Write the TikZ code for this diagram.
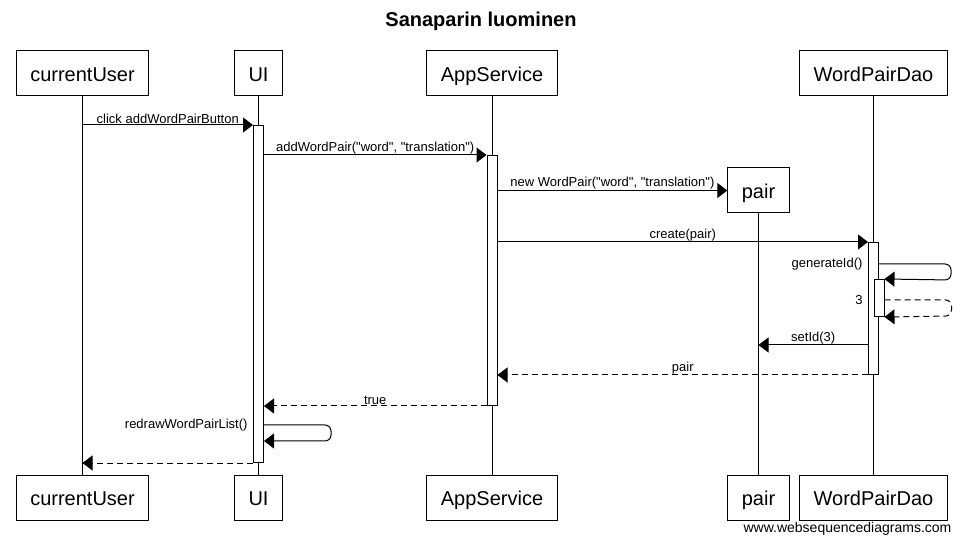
\documentclass[tikz,border=0pt]{standalone}
\usepackage{fontspec}
\setmainfont{Liberation Sans}[Ligatures=TeXOff]
\usetikzlibrary{arrows.meta}

\begin{document}
\begin{tikzpicture}[x=1pt,y=-1pt,line width=1pt,
  actor/.style={draw,minimum height=45pt,inner xsep=14pt,inner ysep=0pt,text height=18pt,text depth=2pt,font=\fontsize{20}{24}\selectfont},
  bar/.style={draw,fill=white,minimum width=10pt,inner sep=0pt,anchor=north},
  call/.style={-{Triangle[length=10pt,width=15pt]}},
  reply/.style={call,dash pattern=on 6pt off 4pt},
  lbl/.style={above,inner sep=0.5pt,font=\fontsize{13}{15}\selectfont},
  selflbl/.style={left,inner xsep=5pt,inner ysep=0pt,font=\fontsize{13}{15}\selectfont}]
  \useasboundingbox (0,0) rectangle (962,545);

  \node[font=\bfseries\fontsize{20}{24}\selectfont] (title) at (481,21) {Sanaparin luominen};

  % participants
  \node[actor] (cu) at (82.5,73.5) {currentUser};
  \node[actor] (ui) at (258.5,73.5) {UI};
  \node[actor] (as) at (492,73.5) {AppService};
  \node[actor] (dao) at (873.5,73.5) {WordPairDao};
  \node[actor] (pr) at (758.5,190.5) {pair};
  \node[actor] (cu2) at (82.5,497.5) {currentUser};
  \node[actor] (ui2) at (258.5,497.5) {UI};
  \node[actor] (as2) at (492,497.5) {AppService};
  \node[actor] (pr2) at (758.5,497.5) {pair};
  \node[actor] (dao2) at (873.5,497.5) {WordPairDao};
  \foreach \p in {cu,ui,as,pr,dao}
    \draw (\p) -- (\p2);

  % activations
  \node[bar,minimum height=337pt] (uiA) at (258.5,125) {};
  \node[bar,minimum height=250pt] (asA) at (492,155) {};
  \node[bar,minimum height=132pt] (daoA) at (873.5,242) {};
  \node[bar,minimum height=37pt] (daoB) at (879,279) {};

  \coordinate (m5) at (0,264);
  \coordinate (m6) at (0,300);
  \coordinate (m7) at (0,345);
  \coordinate (m10) at (0,425);
  \coordinate (m11) at (0,441);

  % messages
  \draw[call] (cu |- uiA.north) -- node[lbl] (l1) {click addWordPairButton} (uiA.north west);
  \draw[call] (uiA.east |- asA.north) -- node[lbl] (l2) {addWordPair("word", "translation")} (asA.north west);
  \draw[call] (asA.east |- pr.west) -- node[lbl] (l3) {new WordPair("word", "translation")} (pr.west);
  \draw[call] (asA.east |- daoA.north) -- node[lbl] (l4) {create(pair)} (daoA.north west);
  \draw[call,rounded corners=6pt] (daoA.east |- m5) -- ++(72,0) -- ++(0,16) -- (daoB.north east);
  \node[selflbl] (l5) at (daoA.west |- m5) {generateId()};
  \draw[reply,rounded corners=6pt] (daoB.east |- m6) -- ++(67,0) -- ++(0,16) -- (daoB.south east);
  \node[selflbl] (l6) at (daoA.west |- m6) {3};
  \draw[call] (daoA.west |- m7) -- node[lbl] (l7) {setId(3)} (pr |- m7);
  \draw[reply] (daoA.south west) -- node[lbl] (l8) {pair} (asA.east |- daoA.south);
  \draw[reply] (asA.south west) -- node[lbl] (l9) {true} (uiA.east |- asA.south);
  \draw[call,rounded corners=6pt] (uiA.east |- m10) -- ++(67,0) -- ++(0,16) -- (uiA.east |- m11);
  \node[selflbl] (l10) at (uiA.west |- m10) {redrawWordPairList()};
  \draw[reply] (uiA.south west) -- (cu |- uiA.south);

  \node[font=\fontsize{14}{16}\selectfont] (site) at (847.5,528.5) {www.websequencediagrams.com};
\end{tikzpicture}
\end{document}
